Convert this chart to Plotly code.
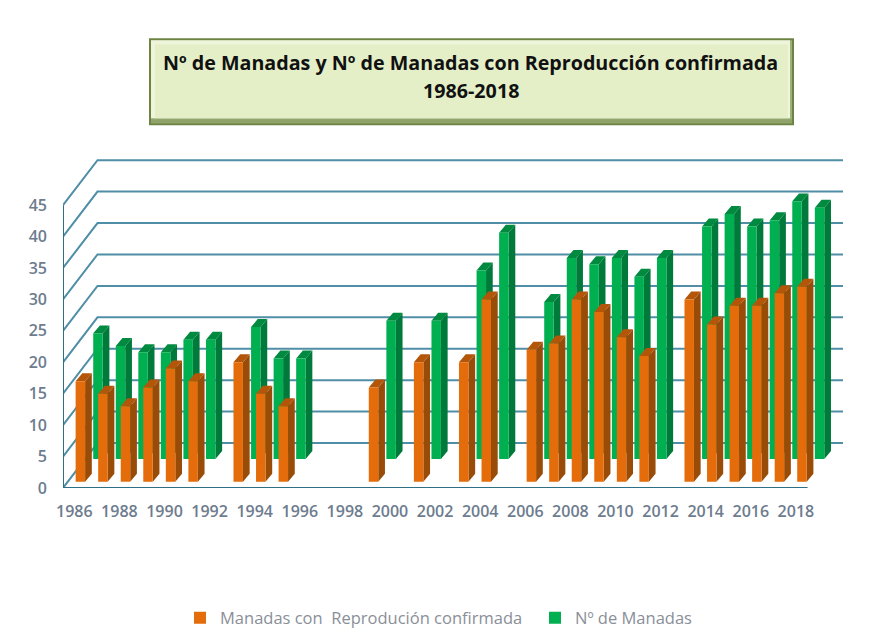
import plotly.graph_objects as go

years = list(range(1986, 2019))
reproduccion = [16, 14, 12, 15, 18, 16, None, 19, 14, 12, None, None, None, 15, None, 19, None, 19, 29,
                None, 21, 22, 29, 27, 23, 20, None, 29, 25, 28, 28, 30, 31]
manadas = [20, 18, 17, 17, 19, 19, None, 21, 16, 16, None, None, None, 22, None, 22, None, 30, 36,
           None, 25, 32, 31, 32, 29, 32, None, 37, 39, 37, 38, 41, 40]
tick_years = list(range(1986, 2019, 2))
y_ticks = list(range(0, 50, 5))

W, H = 869, 644
L, R, B = 63, 845, 488
XS, YS = 22.55, 6.29           # px per category / per unit
YMAX = 52.5
T = B - YMAX * YS
X0 = 1985.5
X1 = X0 + (R - L) / XS
XLINE = X0 + 780 / XS
DX, DY = 34.5 / XS, 45 / YS    # chart depth
BDX, BDY = 6.7 / XS, 8 / YS    # bar depth
GRID = "#4f8ea6"
AXIS = "#2f6f86"
TICK = dict(size=16, color="#6d7c8e", family="Open Sans, sans-serif", weight=600)


def faces(values, offset, width, base):
    sx, sy, tx, ty = [], [], [], []
    for yr, v in zip(years, values):
        if v is None:
            continue
        xl, xr, top = yr + offset, yr + offset + width, base + v
        sx += [xr, xr + BDX, xr + BDX, xr, None]
        sy += [base, base + BDY, top + BDY, top, None]
        tx += [xl, xl + BDX, xr + BDX, xr, None]
        ty += [top, top + BDY, top + BDY, top, None]
    return sx, sy, tx, ty


def poly(x, y, color, z):
    return go.Scatter(x=x, y=y, mode="lines", fill="toself", fillcolor=color,
                      line=dict(width=0, color=color), showlegend=False,
                      hoverinfo="skip", cliponaxis=False, zorder=z)


fig = go.Figure()

# front faces first so that the legend follows this order
fig.add_trace(go.Bar(x=years, y=reproduccion, base=1.0, offset=0.06, width=0.42,
                     marker=dict(color="#E46C0A", line=dict(width=0)), legendwidth=310,
                     name="Manadas con\u00a0 Reprodución confirmada", zorder=6, cliponaxis=False))
fig.add_trace(go.Bar(x=years, y=manadas, base=4.6, offset=0.84, width=0.42,
                     marker=dict(color="#00B050", line=dict(width=0)),
                     name="Nº de Manadas", zorder=3, cliponaxis=False))

# back walls
gx, gy = [], []
for v in y_ticks:
    gx += [X0, X0 + DX, XLINE, None]
    gy += [v, v + DY, v + DY, None]
fig.add_trace(go.Scatter(x=gx, y=gy, mode="lines", line=dict(color=GRID, width=2),
                         showlegend=False, hoverinfo="skip", cliponaxis=False, zorder=0))

# bar depth
sx, sy, tx, ty = faces(manadas, 0.84, 0.42, 4.6)
fig.add_trace(poly(sx, sy, "#007A3A", 2))
fig.add_trace(poly(tx, ty, "#008A40", 2))
sx, sy, tx, ty = faces(reproduccion, 0.06, 0.42, 1.0)
fig.add_trace(poly(sx, sy, "#984C08", 5))
fig.add_trace(poly(tx, ty, "#B4560A", 5))

# front axes
fig.add_trace(go.Scatter(x=[X0, X0, X0 + 33.02], y=[45, 0, 0], mode="lines",
                         line=dict(color=AXIS, width=2), showlegend=False,
                         hoverinfo="skip", cliponaxis=False, zorder=7))


def xp(px):
    return (px - L) / (R - L)


def yp(py):
    return (B - py) / (B - T)


def rect(x0, y0, x1, y1, color):
    return dict(type="rect", xref="paper", yref="paper", x0=xp(x0), x1=xp(x1), y0=yp(y0), y1=yp(y1),
                fillcolor=color, line=dict(width=0), layer="above")


def title_line(text, py):
    return dict(xref="paper", yref="paper", x=xp(470.5), y=yp(py), showarrow=False,
                text="<b>" + text + "</b>",
                font=dict(size=19.7, color="#111111", family="Open Sans, sans-serif"),
                xanchor="center", yanchor="middle")


shapes = [
    rect(149, 38, 794, 125, "#6E8443"),
    rect(151, 40, 792, 123, "#9DB07A"),
    rect(151, 40, 790, 118, "#EEF5DA"),
    rect(155, 44, 788, 118, "#E4EFC8"),
    rect(151, 119, 792, 123, "#8FA36B"),
]

fig.update_layout(
    width=W, height=H, autosize=False,
    margin=dict(l=L, r=W - R, t=T, b=H - B, pad=0, autoexpand=False),
    paper_bgcolor="white", plot_bgcolor="rgba(0,0,0,0)",
    barmode="overlay", shapes=shapes, hovermode=False,
    font=dict(family="Open Sans, sans-serif"),
    xaxis=dict(range=[X0, X1], tickmode="array", tickvals=tick_years,
               ticktext=[str(y) for y in tick_years], showgrid=False, zeroline=False,
               showline=False, ticks="", ticklabelstandoff=12, tickangle=0, tickfont=TICK),
    yaxis=dict(range=[0, YMAX], tickmode="array", tickvals=y_ticks, showgrid=False, zeroline=False,
               showline=False, ticks="", ticklabelstandoff=15, tickfont=TICK),
    legend=dict(orientation="h", x=xp(180), xanchor="left", y=yp(618), yanchor="middle",
                font=dict(size=16.5, color="#8a8f98", family="Open Sans, sans-serif"),
                itemwidth=30, bgcolor="rgba(0,0,0,0)"),
    annotations=[title_line("Nº de Manadas y Nº de Manadas con Reproducción confirmada", 62),
                 title_line("1986-2018", 90)],
)

fig.write_html("out.html", post_script="document.body.style.margin='0';",
               config=dict(displayModeBar=False))
